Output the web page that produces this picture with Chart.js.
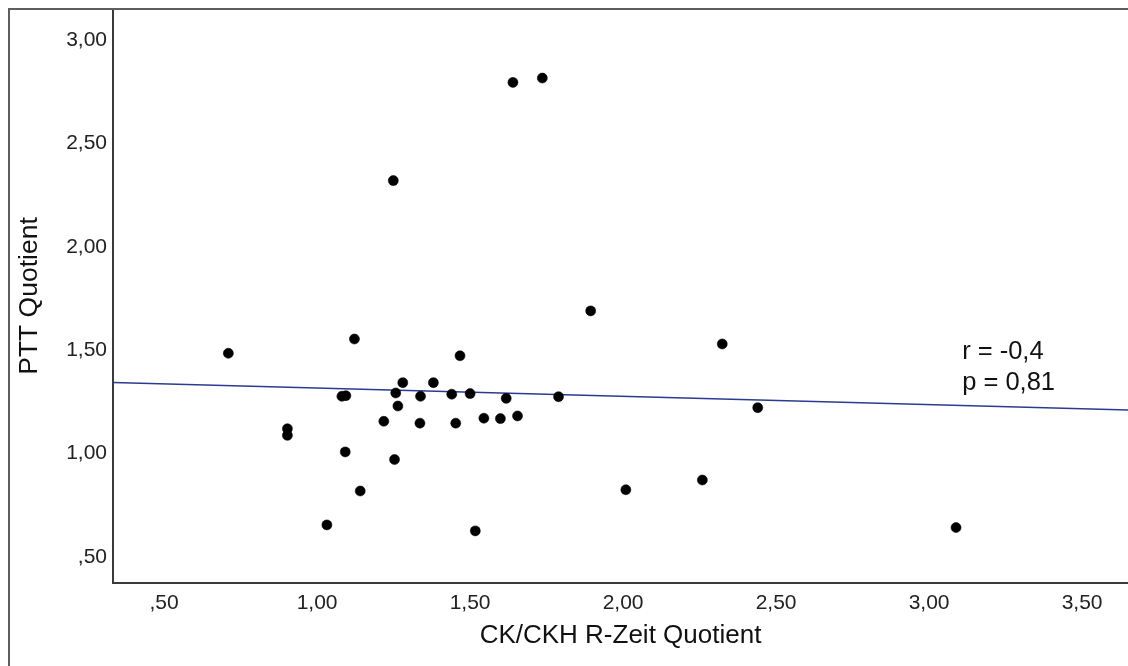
<!DOCTYPE html>
<html>
<head>
<meta charset="utf-8">
<script src="https://cdn.jsdelivr.net/npm/chart.js@4"></script>
<style>
  body { margin: 0; background: #fff; }
  canvas { display: block; }
</style>
</head>
<body>
<canvas id="chartCanvas" width="1128" height="666"></canvas>
<script>
// Daten
const ckQuotient = [0.710, 1.122, 1.467, 1.894, 0.903, 0.903, 1.081, 1.094, 1.280, 1.380,
  1.257, 1.338, 1.440, 1.500, 1.618, 1.789, 1.264, 1.218, 1.336, 1.453,
  1.545, 1.599, 1.655, 1.092, 1.253, 1.141, 1.032, 1.517, 2.009, 2.259,
  2.324, 2.440, 3.088, 1.640, 1.736, 1.249];
const pttQuotient = [1.485, 1.554, 1.473, 1.690, 1.120, 1.088, 1.277, 1.280, 1.343, 1.343,
  1.293, 1.277, 1.287, 1.290, 1.267, 1.275, 1.230, 1.156, 1.147, 1.147,
  1.171, 1.169, 1.182, 1.008, 0.971, 0.819, 0.655, 0.626, 0.825, 0.872,
  1.530, 1.222, 0.642, 2.795, 2.816, 2.320];

// Regressionsgerade
const fitX = [0.333, 3.65];
const fitY = [1.344, 1.211];

// Achsenbeschriftung
const xTickValues = [0.5, 1.0, 1.5, 2.0, 2.5, 3.0, 3.5];
const xTickLabels = [',50', '1,00', '1,50', '2,00', '2,50', '3,00', '3,50'];
const yTickValues = [0.5, 1.0, 1.5, 2.0, 2.5, 3.0];
const yTickLabels = [',50', '1,00', '1,50', '2,00', '2,50', '3,00'];
const statLines = ['r = -0,4', 'p = 0,81'];

const FONT = "'Liberation Sans', Arial, Helvetica, sans-serif";

// Rahmen oben/links zeichnen
const framePlugin = {
  id: 'frame',
  afterDraw(chart) {
    const ctx = chart.ctx;
    ctx.save();
    ctx.strokeStyle = '#5e5e5e';
    ctx.lineWidth = 2;
    ctx.beginPath();
    ctx.moveTo(9, 666);
    ctx.lineTo(9, 9);
    ctx.lineTo(1128, 9);
    ctx.stroke();
    ctx.restore();
  }
};

// r / p Text
const statPlugin = {
  id: 'stat',
  afterDatasetsDraw(chart, args, opts) {
    const ctx = chart.ctx;
    const x = chart.scales.x.getPixelForValue(opts.x);
    const y = chart.scales.y.getPixelForValue(opts.y);
    ctx.save();
    ctx.fillStyle = '#111';
    ctx.font = '25.5px ' + FONT;
    ctx.textAlign = 'left';
    ctx.textBaseline = 'middle';
    statLines.forEach((t, i) => ctx.fillText(t, x, y + i * 31));
    ctx.restore();
  }
};

new Chart(document.getElementById('chartCanvas'), {
  type: 'scatter',
  data: {
    datasets: [
      {
        label: 'PTT',
        data: ckQuotient.map((v, i) => ({ x: v, y: pttQuotient[i] })),
        backgroundColor: '#000',
        borderColor: 'rgba(0,0,0,0.55)',
        borderWidth: 1,
        pointRadius: 5,
        order: 1
      },
      {
        label: 'Fit',
        type: 'line',
        data: fitX.map((v, i) => ({ x: v, y: fitY[i] })),
        borderColor: '#2b3b8f',
        borderWidth: 1.5,
        pointRadius: 0,
        fill: false,
        order: 2
      }
    ]
  },
  options: {
    responsive: false,
    animation: false,
    layout: { autoPadding: false, padding: { top: 9, right: 0, left: 0, bottom: 0 } },
    plugins: {
      legend: { display: false },
      tooltip: { enabled: false },
      stat: { x: 3.108, y: 1.491 }
    },
    scales: {
      x: {
        type: 'linear',
        min: 0.333,
        max: 3.65,
        afterBuildTicks: s => { s.ticks = xTickValues.map(v => ({ value: v })); },
        afterFit: s => { s.height = 83; s.paddingLeft = 0; s.paddingRight = 0; },
        grid: { display: false, drawTicks: false },
        border: { display: true, color: '#3a3a3a', width: 2 },
        ticks: {
          padding: 8,
          color: '#222',
          font: { family: FONT, size: 21 },
          maxRotation: 0,
          callback: v => xTickLabels[xTickValues.indexOf(v)]
        },
        title: {
          display: true,
          text: 'CK/CKH R-Zeit Quotient',
          color: '#111',
          font: { family: FONT, size: 26 },
          padding: { top: 0, bottom: 15 }
        }
      },
      y: {
        type: 'linear',
        min: 0.374,
        max: 3.15,
        afterBuildTicks: s => { s.ticks = yTickValues.map(v => ({ value: v })); },
        afterFit: s => { s.width = 113; s.paddingTop = 0; s.paddingBottom = 0; },
        grid: { display: false, drawTicks: false },
        border: { display: true, color: '#3a3a3a', width: 2 },
        ticks: {
          padding: 6,
          color: '#222',
          font: { family: FONT, size: 21 },
          callback: v => yTickLabels[yTickValues.indexOf(v)]
        },
        title: {
          display: true,
          text: 'PTT Quotient',
          color: '#111',
          font: { family: FONT, size: 26.5 },
          padding: { top: 14, bottom: 0 }
        }
      }
    }
  },
  plugins: [framePlugin, statPlugin]
});
</script>
</body>
</html>
